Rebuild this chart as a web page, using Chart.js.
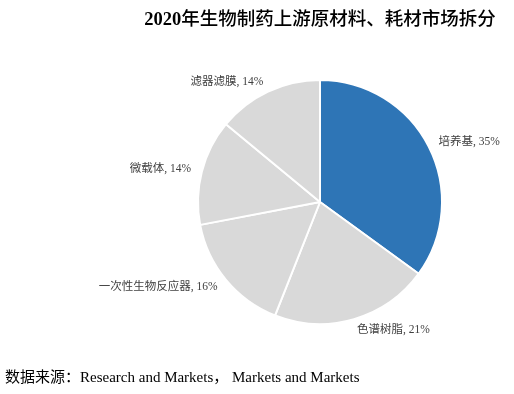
<!DOCTYPE html>
<html lang="zh">
<head>
  <meta charset="UTF-8" />
  <title>2020年生物制药上游原材料、耗材市场拆分</title>
  <script src="https://cdn.jsdelivr.net/npm/chart.js"></script>
  <style>
    body { margin: 0; background: #fff; }
    .wrap { position: relative; width: 514px; height: 394px; }
    .title { position: absolute; left: 0; width: 640px; top: 4px; text-align: center;
      font: 500 18.5px "Liberation Serif", "Noto Sans CJK SC", serif; color: #000; }
    .title b { font-weight: bold; }
    .source { position: absolute; left: 5px; top: 365px;
      font: 15px "Liberation Serif", "Noto Sans CJK SC", serif; color: #000; }
    canvas { position: absolute; left: 0; top: 0; }
  </style>
</head>
<body>
<div class="wrap">
  <canvas id="pie" width="514" height="394"></canvas>
  <div class="title"><b>2020</b>年生物制药上游原材料、耗材市场拆分</div>
  <div class="source">数据来源：Research and Markets， Markets and Markets</div>
</div>
<script>
  const categories = ['培养基', '色谱树脂', '一次性生物反应器', '微载体', '滤器滤膜'];
  const shares = [35, 21, 16, 14, 14];
  const sliceColors = ['#2E75B6', '#D9D9D9', '#D9D9D9', '#D9D9D9', '#D9D9D9'];

  // labels drawn outside each slice at its mid angle
  const outsideLabels = {
    id: 'outsideLabels',
    afterDatasetsDraw(chart) {
      const ctx = chart.ctx;
      const meta = chart.getDatasetMeta(0);
      ctx.save();
      ctx.font = '11.5px "Liberation Serif", "Noto Sans CJK SC", serif';
      ctx.fillStyle = '#404040';
      ctx.textBaseline = 'middle';
      meta.data.forEach((arc, i) => {
        const mid = (arc.startAngle + arc.endAngle) / 2;
        const r = arc.outerRadius + 11;
        const x = arc.x + Math.cos(mid) * r;
        const y = arc.y + Math.sin(mid) * r;
        ctx.textAlign = Math.cos(mid) >= 0 ? 'left' : 'right';
        ctx.fillText(categories[i] + ', ' + shares[i] + '%', x, y);
      });
      ctx.restore();
    }
  };

  new Chart(document.getElementById('pie'), {
    type: 'pie',
    data: {
      labels: categories,
      datasets: [{
        data: shares,
        backgroundColor: sliceColors,
        borderColor: '#ffffff',
        borderWidth: 2
      }]
    },
    options: {
      responsive: false,
      animation: false,
      layout: { padding: { left: 197, right: 71, top: 79, bottom: 69 } },
      plugins: {
        legend: { display: false },
        tooltip: { enabled: false }
      }
    },
    plugins: [outsideLabels]
  });
</script>
</body>
</html>
